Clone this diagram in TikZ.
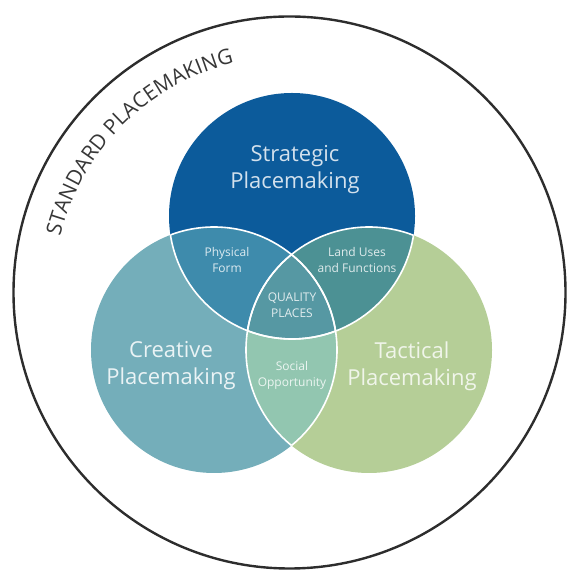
\documentclass[tikz,border=0pt]{standalone}
\usepackage{fontspec}
\setmainfont{Open Sans}
\usetikzlibrary{decorations.text,calc}
\definecolor{stratcol}{RGB}{12,91,155}
\definecolor{creacol}{RGB}{116,174,186}
\definecolor{tactcol}{RGB}{181,206,151}
\definecolor{physcol}{RGB}{62,139,172}
\definecolor{landcol}{RGB}{76,145,148}
\definecolor{qualcol}{RGB}{86,152,163}
\definecolor{soccol}{RGB}{146,198,176}
\definecolor{ringcol}{RGB}{45,45,45}
\definecolor{stdtext}{RGB}{55,55,55}
\tikzset{
  biglabel/.style={align=center, inner sep=0pt, font=\fontsize{22}{27}\selectfont},
  smalllabel/.style={align=center, inner sep=0pt, font=\fontsize{12}{16}\selectfont},
  sepline/.style={draw=white, line width=1.6pt}
}
\begin{document}
\begin{tikzpicture}[x=1pt,y=1pt]
\useasboundingbox (0,0) rectangle (566,572);
\coordinate (O) at (289.5,279.5);
\coordinate (S) at (292,356);
\coordinate (C) at (214,222);
\coordinate (T) at (369,222);
\def\R{123}
% outer ring
\draw[draw=ringcol, line width=2.4pt] (O) circle (276);
% arc text
\path[decorate, decoration={text along path, text align=center,
  text={|\fontsize{21}{24}\selectfont\color{stdtext}|STANDARD PLACEMAKING}}]
  ($(O)+(180:236)$) arc[start angle=180, end angle=90, radius=236];
% circles
\fill[creacol] (C) circle (\R);
\fill[tactcol] (T) circle (\R);
\fill[stratcol] (S) circle (\R);
\begin{scope}
  \clip (S) circle (\R);
  \fill[physcol] (C) circle (\R);
  \fill[landcol] (T) circle (\R);
\end{scope}
\begin{scope}
  \clip (C) circle (\R);
  \fill[soccol] (T) circle (\R);
\end{scope}
\begin{scope}
  \clip (S) circle (\R);
  \clip (C) circle (\R);
  \fill[qualcol] (T) circle (\R);
\end{scope}
\begin{scope}
  \clip (S) circle (\R);
  \draw[sepline] (C) circle (\R);
  \draw[sepline] (T) circle (\R);
\end{scope}
\begin{scope}
  \clip (C) circle (\R);
  \draw[sepline] (S) circle (\R);
  \draw[sepline] (T) circle (\R);
\end{scope}
\begin{scope}
  \clip (T) circle (\R);
  \draw[sepline] (S) circle (\R);
  \draw[sepline] (C) circle (\R);
\end{scope}
% labels
\node[biglabel, text=white!82!stratcol] (strat) at (295,402) {Strategic\\Placemaking};
\node[biglabel, text=white!85!creacol] (crea) at (171,206) {Creative\\Placemaking};
\node[biglabel, text=white!80!tactcol] (tact) at (412,206) {Tactical\\Placemaking};
\node[smalllabel, text=white!82!physcol] (phys) at (227,312) {Physical\\Form};
\node[smalllabel, text=white!82!landcol] (land) at (357,312) {Land Uses\\and Functions};
\node[smalllabel, text=white!82!qualcol] (qual) at (292,267) {QUALITY\\PLACES};
\node[smalllabel, text=white!82!soccol] (soc) at (292,196.5) {Social\\Opportunity};
\end{tikzpicture}
\end{document}
